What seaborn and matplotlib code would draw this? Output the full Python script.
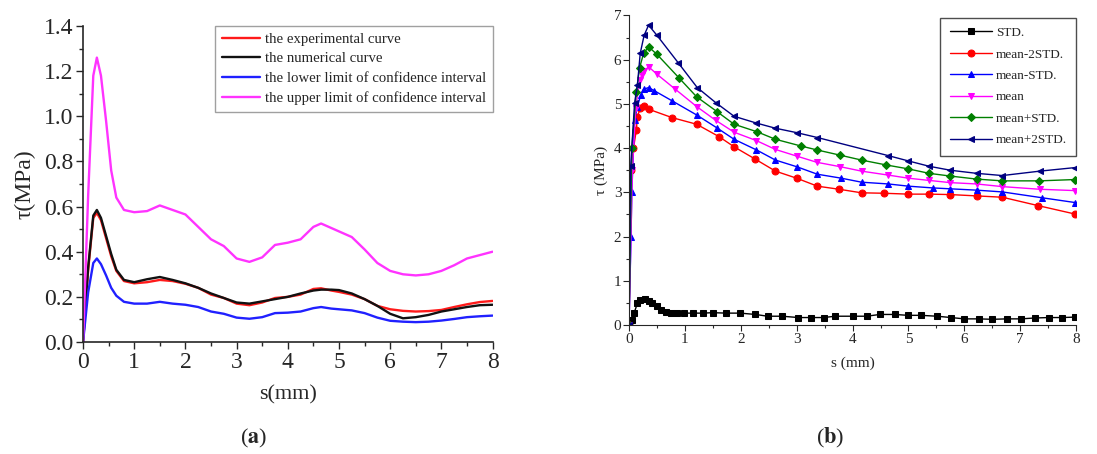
import matplotlib
matplotlib.use("Agg")
from matplotlib import pyplot as plt
from matplotlib.ticker import MultipleLocator, FormatStrFormatter
import pandas as pd
import seaborn as sns

# ---- panel (a): smooth curves, s (mm) vs tau (MPa)
s_a = [0, 0.1, 0.2, 0.27, 0.35, 0.45, 0.55, 0.65, 0.8, 1.0, 1.25, 1.5, 1.75, 2.0,
       2.25, 2.5, 2.75, 3.0, 3.25, 3.5, 3.75, 4.0, 4.25, 4.5, 4.65, 4.85, 5.0,
       5.25, 5.5, 5.75, 6.0, 6.25, 6.5, 6.75, 7.0, 7.25, 7.5, 7.75, 8.0]
experimental = [0, 0.32, 0.55, 0.572, 0.54, 0.46, 0.38, 0.315, 0.27, 0.26, 0.265,
                0.275, 0.27, 0.258, 0.24, 0.21, 0.195, 0.17, 0.163, 0.175, 0.195,
                0.2, 0.21, 0.235, 0.238, 0.228, 0.222, 0.21, 0.19, 0.16, 0.145,
                0.138, 0.135, 0.137, 0.142, 0.155, 0.167, 0.177, 0.182]
numerical = [0, 0.33, 0.56, 0.585, 0.55, 0.47, 0.39, 0.32, 0.275, 0.265, 0.278,
             0.288, 0.275, 0.26, 0.24, 0.215, 0.195, 0.175, 0.17, 0.18, 0.19, 0.2,
             0.215, 0.228, 0.232, 0.232, 0.23, 0.215, 0.19, 0.16, 0.125, 0.105,
             0.11, 0.12, 0.135, 0.145, 0.155, 0.163, 0.165]
lower_ci = [0, 0.22, 0.35, 0.37, 0.345, 0.295, 0.24, 0.205, 0.178, 0.17, 0.17,
            0.178, 0.17, 0.165, 0.155, 0.135, 0.125, 0.108, 0.103, 0.11, 0.128,
            0.13, 0.135, 0.15, 0.155, 0.148, 0.145, 0.14, 0.128, 0.108, 0.094,
            0.09, 0.088, 0.09, 0.095, 0.102, 0.11, 0.114, 0.117]
upper_ci = [0, 0.65, 1.18, 1.26, 1.18, 0.98, 0.76, 0.64, 0.585, 0.575, 0.58,
            0.605, 0.585, 0.565, 0.51, 0.455, 0.425, 0.37, 0.355, 0.375, 0.43,
            0.44, 0.455, 0.51, 0.525, 0.505, 0.49, 0.465, 0.41, 0.35, 0.315, 0.3,
            0.295, 0.3, 0.315, 0.34, 0.37, 0.385, 0.40]
labels_a = ["the experimental curve", "the numerical curve",
            "the lower limit of confidence interval",
            "the upper limit of confidence interval"]
colors_a = ["#ff1a1a", "#111111", "#2020ff", "#ff33ff"]

# ---- panel (b): statistics with markers
std_s = [0, 0.06, 0.09, 0.15, 0.2, 0.28, 0.35, 0.41, 0.5, 0.58, 0.67, 0.76, 0.85,
         0.99, 1.14, 1.32, 1.5, 1.74, 1.99, 2.26, 2.48, 2.74, 3.03, 3.26, 3.48,
         3.69, 4.0, 4.25, 4.49, 4.75, 4.99, 5.22, 5.51, 5.76, 6.0, 6.26, 6.5,
         6.76, 7.01, 7.26, 7.51, 7.75, 7.98]
std_t = [0, 0.11, 0.27, 0.49, 0.57, 0.58, 0.55, 0.51, 0.42, 0.34, 0.30, 0.28,
         0.27, 0.27, 0.27, 0.27, 0.28, 0.27, 0.27, 0.24, 0.2, 0.2, 0.17, 0.17,
         0.17, 0.2, 0.2, 0.2, 0.24, 0.24, 0.22, 0.22, 0.2, 0.17, 0.14, 0.14,
         0.13, 0.14, 0.14, 0.16, 0.17, 0.17, 0.18]
m2_s = [0, 0.036, 0.08, 0.13, 0.15, 0.2, 0.27, 0.35, 0.77, 1.21, 1.61, 1.88, 2.26,
        2.62, 3.0, 3.37, 3.76, 4.16, 4.56, 5.0, 5.37, 5.75, 6.22, 6.68, 7.32, 7.98]
m2_t = [0, 3.5, 4.0, 4.4, 4.7, 4.91, 4.95, 4.88, 4.69, 4.54, 4.26, 4.03, 3.75,
        3.48, 3.32, 3.14, 3.07, 2.99, 2.98, 2.96, 2.96, 2.95, 2.92, 2.89, 2.7, 2.51]
m1_s = [0, 0.036, 0.05, 0.1, 0.15, 0.21, 0.26, 0.35, 0.45, 0.77, 1.21, 1.57, 1.88,
        2.28, 2.62, 3.0, 3.37, 3.8, 4.16, 4.64, 5.0, 5.44, 5.75, 6.22, 6.68,
        7.38, 7.98]
m1_t = [0, 2.0, 3.0, 4.63, 4.94, 5.2, 5.33, 5.37, 5.3, 5.07, 4.75, 4.46, 4.2,
        3.96, 3.73, 3.58, 3.41, 3.32, 3.23, 3.19, 3.14, 3.10, 3.08, 3.05, 3.01,
        2.88, 2.77]
mean_s = [0, 0.06, 0.12, 0.19, 0.23, 0.27, 0.35, 0.5, 0.83, 1.21, 1.55, 1.88, 2.28,
          2.62, 3.0, 3.36, 3.78, 4.16, 4.64, 5.0, 5.37, 5.75, 6.22, 6.68, 7.35,
          7.98]
mean_t = [0, 3.5, 4.9, 5.54, 5.65, 5.74, 5.84, 5.67, 5.33, 4.94, 4.63, 4.36, 4.17,
          3.97, 3.82, 3.68, 3.58, 3.48, 3.39, 3.32, 3.27, 3.22, 3.19, 3.13, 3.07,
          3.04]
p1_s = [0, 0.05, 0.13, 0.19, 0.26, 0.35, 0.5, 0.9, 1.21, 1.58, 1.88, 2.29, 2.62,
        3.07, 3.36, 3.78, 4.16, 4.6, 5.0, 5.37, 5.74, 6.22, 6.68, 7.34, 7.98]
p1_t = [0, 4.01, 5.27, 5.82, 6.14, 6.29, 6.12, 5.58, 5.16, 4.82, 4.54, 4.37, 4.2,
        4.05, 3.96, 3.84, 3.73, 3.62, 3.53, 3.43, 3.37, 3.30, 3.26, 3.26, 3.29]
p2_s = [0, 0.03, 0.1, 0.15, 0.2, 0.27, 0.35, 0.5, 0.88, 1.22, 1.55, 1.88, 2.27,
        2.62, 3.0, 3.37, 4.64, 5.0, 5.37, 5.75, 6.22, 6.68, 7.35, 7.98]
p2_t = [0, 3.6, 5.03, 5.42, 6.14, 6.55, 6.78, 6.55, 5.93, 5.37, 5.03, 4.72, 4.57,
        4.45, 4.35, 4.24, 3.83, 3.71, 3.59, 3.5, 3.43, 3.38, 3.48, 3.56]
labels_b = ["STD.", "mean-2STD.", "mean-STD.", "mean", "mean+STD.", "mean+2STD."]
colors_b = ["#000000", "#ff0000", "#0000ff", "#ff00ff", "#008000", "#000080"]
markers_b = ["s", "o", "^", "v", "D", "<"]

sns.set_style("ticks")
plt.rcParams["font.family"] = ["Liberation Serif", "DejaVu Serif"]
plt.rcParams["mathtext.fontset"] = "stix"

fig = plt.figure(figsize=(10.97, 4.54), dpi=100)
ax1 = fig.add_axes([0.0757, 0.2467, 0.3733, 0.696])
ax2 = fig.add_axes([0.5734, 0.284, 0.4076, 0.682])

# panel (a)
df_a = pd.DataFrame({"s": s_a, labels_a[0]: experimental, labels_a[1]: numerical,
                     labels_a[2]: lower_ci, labels_a[3]: upper_ci})
df_a = df_a.melt(id_vars="s", var_name="curve", value_name="tau")
sns.lineplot(data=df_a, x="s", y="tau", hue="curve", hue_order=labels_a,
             palette=colors_a, sort=False, linewidth=1.7, ax=ax1)
ax1.set_xlim(0, 8)
ax1.set_ylim(0, 1.4)
ax1.xaxis.set_major_locator(MultipleLocator(1))
ax1.xaxis.set_minor_locator(MultipleLocator(0.5))
ax1.yaxis.set_major_locator(MultipleLocator(0.2))
ax1.yaxis.set_minor_locator(MultipleLocator(0.1))
ax1.yaxis.set_major_formatter(FormatStrFormatter("%.1f"))
ax1.tick_params(which="major", length=5, width=1, labelsize=17, direction="out", pad=2)
ax1.tick_params(which="minor", length=3, width=1, direction="out")
ax1.set_xlabel("s(mm)", fontsize=16, labelpad=9)
ax1.set_ylabel("τ(MPa)", fontsize=17, labelpad=6)
leg = ax1.legend(loc="upper right", bbox_to_anchor=(1.0, 1.0), fontsize=10.6,
                 frameon=True, fancybox=False, edgecolor="#888888",
                 handlelength=2.6, handletextpad=0.3, borderpad=0.45,
                 labelspacing=0.42, borderaxespad=0.0)
leg.get_frame().set_linewidth(1.0)
sns.despine(ax=ax1)
for sp in ax1.spines.values():
    sp.set_linewidth(1.2)

# panel (b)
series_b = [(std_s, std_t), (m2_s, m2_t), (m1_s, m1_t), (mean_s, mean_t),
            (p1_s, p1_t), (p2_s, p2_t)]
for (xs, ys), lab, col, mk in zip(series_b, labels_b, colors_b, markers_b):
    ms = 4.0 if mk in ("D", "s") else 5.0
    sns.lineplot(x=xs, y=ys, color=col, marker=mk, markersize=ms,
                 markeredgecolor=col, linewidth=1.0, sort=False, label=lab, ax=ax2)
ax2.set_xlim(0, 8)
ax2.set_ylim(0, 7)
ax2.xaxis.set_major_locator(MultipleLocator(1))
ax2.xaxis.set_minor_locator(MultipleLocator(0.5))
ax2.yaxis.set_major_locator(MultipleLocator(1))
ax2.yaxis.set_minor_locator(MultipleLocator(0.5))
ax2.tick_params(which="major", length=4, width=0.8, labelsize=11, direction="out", pad=1.5)
ax2.tick_params(which="minor", length=2.5, width=0.8, direction="out")
ax2.set_xlabel("s (mm)", fontsize=11, labelpad=8)
ax2.set_ylabel("τ (MPa)", fontsize=11, labelpad=4)
leg2 = ax2.legend(loc="upper right", bbox_to_anchor=(1.0, 0.993), fontsize=9.5,
                  frameon=True, fancybox=False, edgecolor="#222222",
                  handlelength=3.2, handletextpad=0.3, borderpad=0.7,
                  labelspacing=0.7, borderaxespad=0.0)
leg2.get_frame().set_linewidth(1.0)
sns.despine(ax=ax2)

fig.text(0.231, 0.035, r"($\mathbf{a}$)", fontsize=16, ha="center", va="center")
fig.text(0.7565, 0.035, r"($\mathbf{b}$)", fontsize=16, ha="center", va="center")

fig.savefig("out.png", dpi=100, facecolor="white")
